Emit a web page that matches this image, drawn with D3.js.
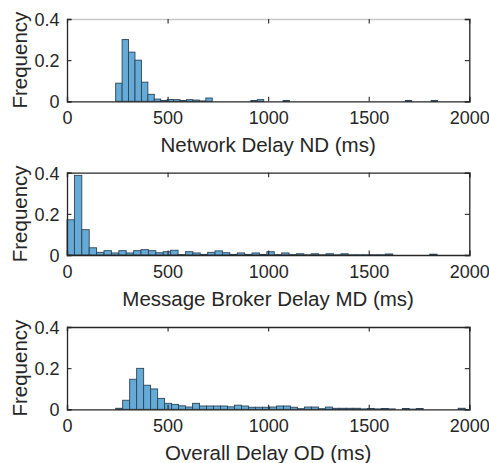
<!DOCTYPE html>
<html>
<head>
<meta charset="utf-8">
<script src="https://cdn.jsdelivr.net/npm/d3@7"></script>
<style>
  html, body { margin: 0; padding: 0; background: #fff; }
  svg { display: block; }
  text { font-family: "Liberation Sans", Arial, Helvetica, sans-serif; fill: #262626; }
</style>
</head>
<body>
<svg id="chart" width="489" height="463"></svg>
<script>
// Shared axis ticks
const xTicks = [0, 500, 1000, 1500, 2000];
const yTicks = [0, 0.2, 0.4];
const xDomain = [0, 2000];
const yDomain = [0, 0.4];

// Network delay histogram (bin start and width in ms, relative frequency per bin)
const ndLabel = "Network Delay ND (ms)";
const ndStart = 242;
const ndWidth = 32;
const ndFreq = [0.088, 0.300, 0.239, 0.200, 0.093, 0.034, 0.011, 0.004, 0.009, 0.008,
                0.004, 0.008, 0.006, 0.002, 0.016, 0, 0, 0, 0, 0,
                0, 0.004, 0.008, 0, 0, 0, 0.004, 0, 0, 0,
                0, 0, 0, 0, 0, 0, 0, 0, 0, 0,
                0, 0, 0, 0, 0, 0.004, 0, 0, 0, 0.004];

// Message broker delay histogram
const mdLabel = "Message Broker Delay MD (ms)";
const mdStart = 0;
const mdWidth = 36.8;
const mdFreq = [0.171, 0.387, 0.123, 0.035, 0.013, 0.021, 0.010, 0.021, 0.010, 0.021,
                0.026, 0.021, 0.011, 0.016, 0.023, 0.002, 0.016, 0.010, 0.003, 0.013,
                0.020, 0.011, 0.003, 0.010, 0.003, 0.010, 0.003, 0.016, 0.002, 0.010,
                0.002, 0.006, 0.001, 0.006, 0.001, 0.006, 0.001, 0.006, 0.001, 0.001,
                0.001, 0.001, 0.001, 0.005, 0, 0, 0, 0, 0, 0.004];

// Overall delay histogram
const odLabel = "Overall Delay OD (ms)";
const odStart = 242;
const odWidth = 34.75;
const odFreq = [0.005, 0.044, 0.146, 0.199, 0.117, 0.099, 0.053, 0.029, 0.024, 0.017,
                0.011, 0.029, 0.016, 0.016, 0.016, 0.016, 0.012, 0.020, 0.016, 0.010,
                0.010, 0.010, 0.011, 0.016, 0.016, 0.010, 0.003, 0.011, 0.011, 0.003,
                0.011, 0.005, 0.005, 0.005, 0.005, 0.002, 0.004, 0.002, 0.004, 0.002,
                0, 0.004, 0.001, 0.004, 0, 0, 0, 0, 0, 0.005];

const panels = [
  { label: ndLabel, start: ndStart, width: ndWidth, freq: ndFreq, top: 19, topBorder: "#c8c8c8" },
  { label: mdLabel, start: mdStart, width: mdWidth, freq: mdFreq, top: 172.7, topBorder: "#262626" },
  { label: odLabel, start: odStart, width: odWidth, freq: odFreq, top: 327, topBorder: "#262626" }
];

const left = 67, right = 469.3, plotH = 82.3;
const axisColor = "#262626";
const tickLen = 4.5;
const barFill = "#66aad7";
const barStroke = "#2c4557";

const svg = d3.select("#chart");
const x = d3.scaleLinear().domain(xDomain).range([left, right]);

panels.forEach(p => {
  const bottom = p.top + plotH;
  const y = d3.scaleLinear().domain(yDomain).range([bottom, p.top]);
  const g = svg.append("g");

  const bins = p.freq.map((v, i) => ({ x0: p.start + i * p.width, x1: p.start + (i + 1) * p.width, v }))
                     .filter(b => b.v > 0);

  g.selectAll("rect.bar").data(bins).enter().append("rect")
    .attr("class", "bar")
    .attr("x", b => x(b.x0))
    .attr("width", b => x(b.x1) - x(b.x0))
    .attr("y", b => y(b.v))
    .attr("height", b => y(0) - y(b.v))
    .attr("fill", barFill)
    .attr("stroke", barStroke)
    .attr("stroke-width", 0.9);

  // Bottom axis with inward ticks
  const xAxis = d3.axisBottom(x).tickValues(xTicks).tickSize(-tickLen).tickPadding(tickLen + 8)
    .tickFormat(d3.format("d"));
  const gx = g.append("g").attr("transform", `translate(0,${bottom})`).call(xAxis);
  // Top axis (box) ticks
  const gxt = g.append("g").attr("transform", `translate(0,${p.top})`)
    .call(d3.axisTop(x).tickValues(xTicks).tickSize(-tickLen).tickFormat(""));
  // Left axis
  const yAxis = d3.axisLeft(y).tickValues(yTicks).tickSize(-tickLen).tickPadding(tickLen + 3)
    .tickFormat(d => d === 0 ? "0" : d3.format(".1f")(d));
  const gy = g.append("g").attr("transform", `translate(${left},0)`).call(yAxis);
  // Right axis (box) ticks
  const gyr = g.append("g").attr("transform", `translate(${right},0)`)
    .call(d3.axisRight(y).tickValues(yTicks).tickSize(-tickLen).tickFormat(""));

  [gx, gxt, gy, gyr].forEach(a => {
    a.select(".domain").attr("stroke", axisColor).attr("stroke-width", 1.3);
    a.selectAll(".tick line").attr("stroke", axisColor).attr("stroke-width", 1.1);
    a.selectAll(".tick text").attr("fill", axisColor).style("font-size", "18px")
      .style("font-family", '"Liberation Sans", Arial, sans-serif');
  });
  gxt.select(".domain").attr("stroke", p.topBorder);
  gx.selectAll(".tick text").attr("dy", null).attr("y", 23).attr("dominant-baseline", "auto");
  gy.selectAll(".tick text").attr("dy", "0.36em");

  // Axis titles
  g.append("text")
    .attr("x", (left + right) / 2)
    .attr("y", bottom + 50.5)
    .attr("text-anchor", "middle")
    .style("font-size", "20.5px")
    .text(p.label);

  g.append("text")
    .attr("transform", `translate(27,${p.top + plotH / 2}) rotate(-90)`)
    .attr("text-anchor", "middle")
    .style("font-size", "20.5px")
    .text("Frequency");
});
</script>
</body>
</html>
